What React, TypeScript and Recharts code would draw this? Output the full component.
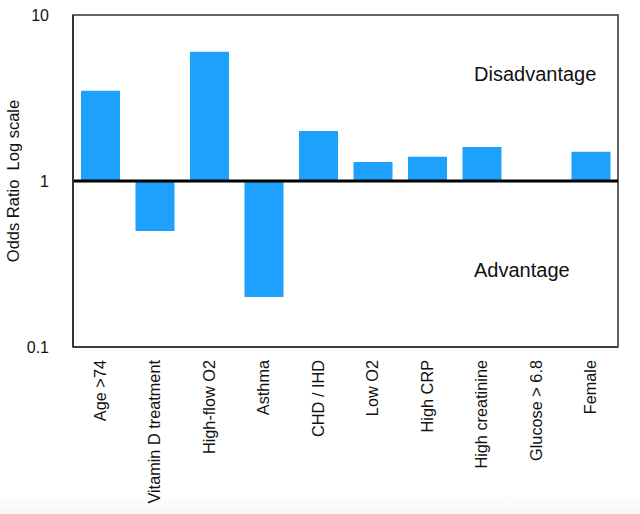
import React from "react";
import { BarChart, Bar, XAxis, YAxis, ReferenceLine, ReferenceArea } from "recharts";

const categories = [
  "Age >74",
  "Vitamin D treatment",
  "High-flow O2",
  "Asthma",
  "CHD / IHD",
  "Low O2",
  "High CRP",
  "High creatinine",
  "Glucose > 6.8",
  "Female",
];
const oddsRatios = [3.5, 0.5, 6.0, 0.2, 2.0, 1.3, 1.4, 1.6, 1.0, 1.5];
const yTicks = [0.1, 1, 10];
const baseline = 1;

const data = categories.map((name, i) => ({
  name,
  range: [baseline, oddsRatios[i]],
}));

const FONT = "'Liberation Sans', Arial, Helvetica, sans-serif";

const XTick = (props: any) => {
  const { x, y, payload } = props;
  const ty = y + 5;
  return (
    <text
      x={x}
      y={ty}
      transform={`rotate(-90, ${x}, ${ty})`}
      textAnchor="end"
      dy="0.35em"
      fontSize={16.3}
      fontFamily={FONT}
      fill="#111"
    >
      {payload.value}
    </text>
  );
};

const YTick = (props: any) => {
  const { x, y, payload } = props;
  return (
    <text
      x={x}
      y={y}
      textAnchor="end"
      dy="0.35em"
      fontSize={16}
      fontFamily={FONT}
      fill="#111"
    >
      {String(payload.value)}
    </text>
  );
};

export default function App() {
  return (
    <div
      style={{
        position: "absolute",
        left: 0,
        top: 0,
        width: 640,
        height: 514,
        background: "linear-gradient(to bottom, #ffffff 0px, #ffffff 494px, #f6f6f6 514px)",
      }}
    >
      <BarChart
        width={640}
        height={514}
        data={data}
        margin={{ top: 15, right: 22, left: 0, bottom: 0 }}
      >
        <XAxis
          dataKey="name"
          height={167}
          interval={0}
          tickLine={false}
          axisLine={{ stroke: "#333", strokeWidth: 1.5 }}
          tick={<XTick />}
        />
        <YAxis
          scale="log"
          domain={[0.1, 10]}
          ticks={yTicks}
          allowDataOverflow
          width={73}
          tickLine={false}
          tickMargin={18}
          axisLine={{ stroke: "#333", strokeWidth: 2 }}
          tick={<YTick />}
          label={{
            value: "Odds Ratio\u00a0\u00a0Log scale",
            angle: -90,
            position: "insideLeft",
            dx: 8,
            style: { fontSize: 16.5, fontFamily: FONT, fill: "#111", textAnchor: "middle" },
          }}
        />
        <ReferenceArea
          y1={0.1}
          y2={10}
          fill="none"
          stroke="#333"
          strokeWidth={1.5}
          ifOverflow="visible"
        />
        <Bar dataKey="range" fill="#1ea1fd" barSize={39} isAnimationActive={false} />
        <ReferenceLine y={baseline} stroke="#000" strokeWidth={3} />
        <text x={474} y={81} fontSize={20} fontFamily={FONT} fill="#111">
          Disadvantage
        </text>
        <text x={474} y={277} fontSize={20} fontFamily={FONT} fill="#111">
          Advantage
        </text>
      </BarChart>
    </div>
  );
}
